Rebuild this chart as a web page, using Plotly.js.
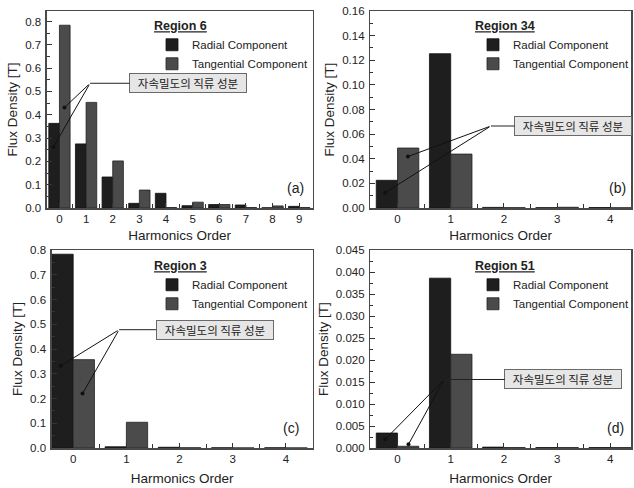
<!DOCTYPE html>
<html>
<head>
<meta charset="utf-8">
<script src="https://cdn.plot.ly/plotly-3.0.1.min.js"></script>
<style>html,body{margin:0;padding:0;background:#fff;}#chart{width:634px;height:488px;}</style>
</head>
<body>
<div id="chart"></div>
<script>
// ---- data ----
const catsA = [0, 1, 2, 3, 4, 5, 6, 7, 8, 9];
const radialA = [0.363, 0.275, 0.133, 0.020, 0.063, 0.010, 0.015, 0.013, 0.001, 0.007];
const tangA   = [0.784, 0.453, 0.202, 0.077, 0.002, 0.025, 0.015, 0.002, 0.009, 0.002];

const catsB = [0, 1, 2, 3, 4];
const radialB = [0.0225, 0.1253, 0.0005, 0.0003, 0.0004];
const tangB   = [0.0487, 0.0438, 0.0003, 0.0006, 0.0002];

const catsC = [0, 1, 2, 3, 4];
const radialC = [0.783, 0.005, 0.003, 0.0008, 0.0008];
const tangC   = [0.357, 0.104, 0.001, 0.0005, 0.0005];

const catsD = [0, 1, 2, 3, 4];
const radialD = [0.0034, 0.0386, 0.0002, 0.0001, 0.0001];
const tangD   = [0.0004, 0.0213, 0.0001, 0.0001, 0.0001];

const seriesNames = ['Radial Component', 'Tangential Component'];
const regionNames = ['Region 6', 'Region 34', 'Region 3', 'Region 51'];
const panelLabels = ['(a)', '(b)', '(c)', '(d)'];
const noteText = '자속밀도의 직류 성분';
const xTitle = 'Harmonics Order';
const yTitle = 'Flux Density [T]';

// ---- styling ----
const radialColor = '#1e1e1e';
const tangColor = '#4b4b4b';
const fontLatin = 'Liberation Sans, Arial, sans-serif';
const fontKr = 'Noto Sans CJK KR, sans-serif';

const panels = [
  {cats: catsA, r: radialA, t: tangA, xa: 'x',  ya: 'y',  leg: 'legend'},
  {cats: catsB, r: radialB, t: tangB, xa: 'x2', ya: 'y2', leg: 'legend2'},
  {cats: catsC, r: radialC, t: tangC, xa: 'x3', ya: 'y3', leg: 'legend3'},
  {cats: catsD, r: radialD, t: tangD, xa: 'x4', ya: 'y4', leg: 'legend4'}
];

const traces = [];
panels.forEach(p => {
  traces.push({type: 'bar', x: p.cats, y: p.r, name: seriesNames[0], xaxis: p.xa, yaxis: p.ya, legend: p.leg,
    marker: {color: radialColor, line: {color: '#111', width: 0.8}}, hoverinfo: 'skip'});
  traces.push({type: 'bar', x: p.cats, y: p.t, name: seriesNames[1], xaxis: p.xa, yaxis: p.ya, legend: p.leg,
    marker: {color: tangColor, line: {color: '#222', width: 0.8}}, hoverinfo: 'skip'});
});

function xax(domain, range, anchor, standoff) {
  return {domain: domain, range: range, anchor: anchor, tickmode: 'linear', tick0: 0, dtick: 1,
    ticks: 'inside', ticklen: 5, tickwidth: 1, tickcolor: '#333',
    minor: {dtick: 0.5, tick0: 0, ticks: 'inside', ticklen: 4, tickcolor: '#333', tickwidth: 1},
    showline: true, mirror: true, linecolor: '#4a4a4a', linewidth: 1.5, showgrid: false, zeroline: false,
    tickfont: {family: fontLatin, size: 11.5, color: '#222'},
    title: {text: xTitle, font: {family: fontLatin, size: 13.5, color: '#222', weight: 'normal'}, standoff: standoff}};
}
function yax(domain, range, dtick, fmt, anchor) {
  return {domain: domain, range: range, anchor: anchor, tickmode: 'linear', tick0: 0, dtick: dtick,
    tickformat: fmt, ticks: 'inside', ticklen: 5, tickwidth: 1, tickcolor: '#333', ticklabelstandoff: 2,
    minor: {dtick: dtick / 2, ticks: 'inside', ticklen: 3, tickcolor: '#333', tickwidth: 1},
    showline: true, mirror: true, linecolor: '#4a4a4a', linewidth: 1.5, showgrid: false, zeroline: false,
    tickfont: {family: fontLatin, size: 11.5, color: '#222'},
    title: {text: yTitle, font: {family: fontLatin, size: 13.5, color: '#222', weight: 'normal'}, standoff: 4}};
}
function leg(x, y, title) {
  return {x: x, y: y, xanchor: 'left', yanchor: 'top', bgcolor: 'rgba(0,0,0,0)', borderwidth: 0,
    traceorder: 'normal', font: {family: fontLatin, size: 11.5, color: '#222'},
    title: {text: '<b><u>' + title + '</u></b>', font: {family: fontLatin, size: 12.5, color: '#222'}}};
}

const W = 634, H = 488;
const px = v => v / W, py = v => 1 - v / H;

const annotations = [];
// note boxes with leader lines
const notes = [
  {xr: 'x',  yr: 'y',  bx: 4.83, by: 0.535, jx: 1.15, jy: 0.535, dots: [[0.19, 0.431], [-0.225, 0.262]]},
  {xr: 'x2', yr: 'y2', bx: 3.30, by: 0.0666, jx: 1.756, jy: 0.0666, dots: [[0.195, 0.0418], [-0.231, 0.0125]]},
  {xr: 'x3', yr: 'y3', bx: 2.66, by: 0.478, jx: 0.863, jy: 0.478, dots: [[-0.236, 0.332], [0.176, 0.22]]},
  {xr: 'x4', yr: 'y4', bx: 3.12, by: 0.01557, jx: 0.876, jy: 0.01557, dots: [[-0.231, 0.00198], [0.206, 0.00084]]}
];
notes.forEach(n => {
  annotations.push({xref: n.xr, yref: n.yr, x: n.jx, y: n.jy, axref: n.xr, ayref: n.yr, ax: n.bx, ay: n.by,
    text: noteText, showarrow: true, arrowhead: 0, arrowwidth: 1, arrowcolor: '#222',
    width: 110, height: 12,
    font: {family: fontKr, size: 11.5, color: '#222'}, bgcolor: '#e6e6e6', bordercolor: '#6a6a6a', borderwidth: 1, borderpad: 3});
  n.dots.forEach(d => {
    annotations.push({xref: n.xr, yref: n.yr, x: d[0], y: d[1], axref: n.xr, ayref: n.yr, ax: n.jx, ay: n.jy,
      text: '', showarrow: true, arrowhead: 6, arrowsize: 1, arrowwidth: 1, arrowcolor: '#111', standoff: 0});
  });
});
const labelPos = [[295.7, 188], [618, 188], [291.7, 428], [616.7, 428]];
labelPos.forEach((p, i) => {
  annotations.push({xref: 'paper', yref: 'paper', x: px(p[0]), y: py(p[1]), xanchor: 'center', yanchor: 'middle',
    text: panelLabels[i], showarrow: false, font: {family: fontLatin, size: 14, color: '#222'}});
});

const layout = {
  width: W, height: H, margin: {l: 0, r: 0, t: 0, b: 0}, paper_bgcolor: '#fff', plot_bgcolor: '#fff',
  barmode: 'group', bargap: 0.2, bargroupgap: 0, showlegend: true,
  xaxis:  xax([px(47), px(313)], [-0.47, 9.5], 'y', 6),
  yaxis:  yax([py(208), py(11)], [0, 0.845], 0.1, '.1f', 'x'),
  xaxis2: xax([px(371), px(632)], [-0.51, 4.39], 'y2', 6),
  yaxis2: yax([py(208), py(11)], [0, 0.16], 0.02, '.2f', 'x2'),
  xaxis3: xax([px(52), px(313)], [-0.4, 4.5], 'y3', 9),
  yaxis3: yax([py(448), py(250)], [0, 0.8], 0.1, '.1f', 'x3'),
  xaxis4: xax([px(371), px(632)], [-0.51, 4.39], 'y4', 9),
  yaxis4: yax([py(448), py(250)], [0, 0.045], 0.005, '.3f', 'x4'),
  legend:  leg(px(152), py(14), regionNames[0]),
  legend2: leg(px(474), py(14), regionNames[1]),
  legend3: leg(px(152), py(254), regionNames[2]),
  legend4: leg(px(474), py(254), regionNames[3]),
  annotations: annotations
};

Plotly.newPlot('chart', traces, layout, {staticPlot: true, displayModeBar: false});
</script>
</body>
</html>
